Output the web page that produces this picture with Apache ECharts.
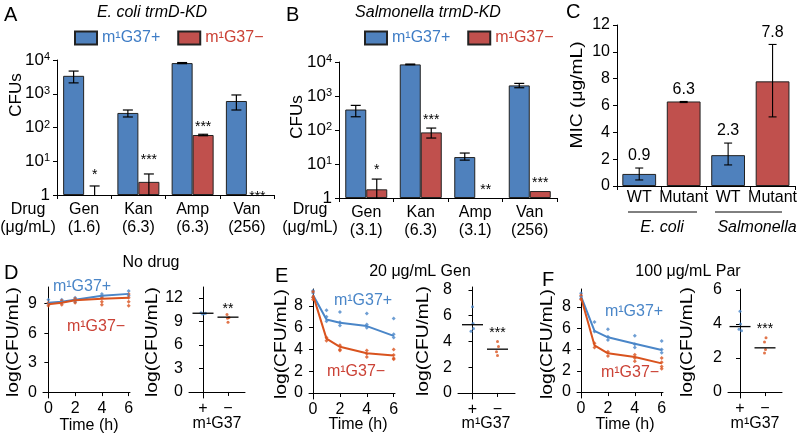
<!DOCTYPE html>
<html><head><meta charset="utf-8">
<script src="https://cdn.jsdelivr.net/npm/echarts@6/dist/echarts.min.js"></script>
<style>html,body{margin:0;padding:0;background:#fff}#c{width:800px;height:435px}</style>
</head><body><div id="c"></div>
<script>
// ---------- Panel A : E. coli trmD-KD (CFUs, log scale) ----------
const drugsA = ['Gen', 'Kan', 'Amp', 'Van'];
const dosesA = ['1.6', '6.3', '6.3', '256'];
const aPlus = [3400, 270, 8100, 610];
const aPlusLow = [2100, 205, 7800, 330];
const aPlusHigh = [4700, 330, 8400, 920];
const aMinus = [null, 2.45, 60, null];
const aMinusLow = [1, 1, 57, null];
const aMinusHigh = [1.85, 4.2, 63, null];
const aStars = ['*', '***', '***', '***'];
const aStarAt = [3.9, 10.9, 103, 0.85];

// ---------- Panel B : Salmonella trmD-KD ----------
const drugsB = ['Gen', 'Kan', 'Amp', 'Van'];
const dosesB = ['3.1', '6.3', '3.1', '256'];
const bPlus = [400, 8500, 16, 2050];
const bPlusLow = [245, 8300, 13, 1750];
const bPlusHigh = [530, 8700, 21, 2350];
const bMinus = [1.8, 85, null, 1.6];
const bMinusLow = [1, 58, null, null];
const bMinusHigh = [3.6, 114, null, null];
const bStars = ['*', '***', '**', '***'];
const bStarAt = [6.7, 196, 1.7, 2.8];

// ---------- Panel C : MIC ----------
const micCats = ['WT', 'Mutant', 'WT', 'Mutant'];
const micVals = [0.9, 6.3, 2.3, 7.8];
const micLow = [0.45, 6.22, 1.57, 5.15];
const micHigh = [1.34, 6.3, 3.2, 10.55];
const micSpecies = ['E. coli', 'Salmonella'];

// ---------- Panels D/E/F : time courses ----------
const times = [0, 1, 2, 4, 6];
const dPlusMean = [9.1, 9.2, 9.4, 9.8, 10.0];
const dMinusMean = [8.95, 9.1, 9.35, 9.5, 9.6];
const dPlusReps = [[0, 9.4], [0, 9.0], [1, 9.4], [1, 9.1], [2, 9.6], [2, 9.2], [4, 10.0], [4, 9.6], [6, 10.3], [6, 9.8]];
const dMinusReps = [[0, 9.1], [0, 8.8], [1, 9.3], [1, 8.9], [2, 9.5], [2, 9.1], [4, 9.7], [4, 9.2], [4, 8.9], [6, 10.0], [6, 9.6], [6, 9.2], [6, 8.8]];
const ePlusMean = [9.0, 6.75, 6.45, 6.15, 5.25];
const eMinusMean = [9.0, 5.0, 4.25, 3.65, 3.45];
const ePlusReps = [[0, 9.4], [0, 9.2], [0, 8.8], [1, 7.6], [1, 7.0], [1, 6.6], [2, 7.45], [2, 6.5], [2, 6.2], [4, 7.3], [4, 6.3], [4, 6.0], [6, 6.85], [6, 5.4], [6, 5.1]];
const eMinusReps = [[0, 9.3], [0, 8.8], [0, 8.6], [1, 5.1], [1, 4.8], [2, 4.4], [2, 4.0], [2, 3.9], [4, 3.9], [4, 3.6], [4, 3.3], [6, 4.0], [6, 3.5], [6, 3.2], [6, 3.1]];
const fPlusMean = [9.0, 5.75, 5.15, 4.55, 3.95];
const fMinusMean = [8.9, 4.4, 3.65, 3.3, 2.7];
const fPlusReps = [[0, 9.3], [0, 9.0], [0, 8.8], [1, 6.6], [1, 5.7], [2, 5.9], [2, 5.2], [2, 4.9], [4, 5.3], [4, 4.5], [4, 4.2], [6, 4.8], [6, 4.0], [6, 3.7]];
const fMinusReps = [[0, 9.1], [0, 8.7], [1, 4.6], [1, 4.2], [2, 3.8], [2, 3.4], [4, 3.5], [4, 3.2], [4, 2.9], [6, 3.2], [6, 2.8], [6, 2.4], [6, 2.2]];

// ---------- 6 h endpoint strip charts (x: 0 = +, 1 = −, small jitter) ----------
const stripCats = ['+', '−'];
const dStripPlus = [[-0.08, 10.1], [0.04, 10.0], [0.1, 10.05], [-0.02, 9.95]];
const dStripMinus = [[0.96, 9.9], [1.04, 9.5], [0.98, 9.4], [1.0, 8.9]];
const dStripMean = [10.05, 9.55];
const eStripPlus = [[0.0, 6.7], [0.02, 5.4], [0.04, 5.0], [-0.06, 4.8]];
const eStripMinus = [[1.0, 4.0], [1.04, 3.6], [0.96, 3.2], [1.0, 2.9]];
const eStripMean = [5.3, 3.4];
const fStripPlus = [[0.0, 4.75], [0.02, 4.0], [-0.04, 3.7], [0.06, 3.6]];
const fStripMinus = [[1.04, 3.2], [0.98, 2.95], [1.02, 2.5], [0.98, 2.3]];
const fStripMean = [3.85, 2.6];
const stripStars = ['**', '***', '***'];
const stripStarAt = [10.6, 4.66, 3.7];

// ---------- styles ----------
const FONT = '"Liberation Sans", Arial, sans-serif';
const BAR_BLUE = '#4F81BD', BAR_RED = '#C0504D';
const TXT_BLUE = '#3F7DC6', TXT_RED = '#CB4236';
const LN_BLUE = '#4A86C8', LN_RED = '#D9531E';
const BAR_W = 21;

function axisBase(extra) {
  return Object.assign({
    axisLine: { show: true, lineStyle: { color: '#000', width: 1 } },
    axisTick: { show: true, length: 4, lineStyle: { color: '#000', width: 1 } },
    axisLabel: { color: '#000', fontSize: 16, fontFamily: FONT },
    splitLine: { show: false }
  }, extra);
}
function deepAxis(extra, label, tick) {
  const a = axisBase(extra);
  if (label) a.axisLabel = Object.assign({}, a.axisLabel, label);
  if (tick) a.axisTick = Object.assign({}, a.axisTick, tick);
  return a;
}

function errBarRender(offset, cap) {
  return function (params, api) {
    const i = api.value(0), lo = api.value(1), hi = api.value(2);
    const pT = api.coord([i, hi]), pB = api.coord([i, lo]);
    const x = pT[0] + offset;
    const ls = { stroke: '#000', lineWidth: 1.2 };
    const ch = [
      { type: 'line', shape: { x1: x, y1: pB[1], x2: x, y2: pT[1] }, style: ls },
      { type: 'line', shape: { x1: x - cap, y1: pT[1], x2: x + cap, y2: pT[1] }, style: ls }
    ];
    if (lo > 1.01) ch.push({ type: 'line', shape: { x1: x - cap, y1: pB[1], x2: x + cap, y2: pB[1] }, style: ls });
    return { type: 'group', children: ch };
  };
}
function textRender(texts, offset, size) {
  return function (params, api) {
    const p = api.coord([api.value(0), api.value(1)]);
    return { type: 'text', x: p[0] + offset, y: p[1],
      style: { text: texts[params.dataIndex], align: 'center', verticalAlign: 'middle', font: size + 'px ' + FONT, fill: '#000' } };
  };
}
function errData(lo, hi) {
  const out = [];
  lo.forEach((v, i) => { if (v != null && hi[i] != null) out.push([i, v, hi[i]]); });
  return out;
}
function logLabel(v) {
  if (v === 1) return '{b|1}';
  return '{b|10}{s|' + Math.round(Math.log10(v)) + '}';
}
const logRich = { b: { fontSize: 17, fontFamily: FONT, color: '#000' }, s: { fontSize: 11, fontFamily: FONT, color: '#000', verticalAlign: 'top' } };

const grids = [
  { left: 57, top: 60, width: 217, height: 135 },   // A
  { left: 339, top: 62, width: 218, height: 136 },  // B
  { left: 617, top: 25, width: 178, height: 161 },  // C
  { left: 43, top: 287, width: 87, height: 111 },   // D line
  { left: 189, top: 287, width: 56, height: 111 },  // D strip
  { left: 309, top: 289, width: 86, height: 110 },  // E line
  { left: 458, top: 287, width: 57, height: 112 },  // E strip
  { left: 577, top: 289, width: 86, height: 109 },  // F line
  { left: 728, top: 289, width: 54, height: 109 }   // F strip
];

const catLabelAB = (doses) => ({ fontSize: 16, lineHeight: 18, margin: 6, interval: 0, formatter: (v, i) => v + '\n(' + doses[i] + ')' });
const stripLabel = { customValues: [0, 1], margin: 3, fontSize: 16, formatter: v => stripCats[Math.round(v)] };
const timeLabel = { customValues: [0, 2, 4, 6], margin: 3 };

const xAxes = [
  deepAxis({ type: 'category', gridIndex: 0, data: drugsA }, catLabelAB(dosesA)),
  deepAxis({ type: 'category', gridIndex: 1, data: drugsB }, catLabelAB(dosesB)),
  deepAxis({ type: 'category', gridIndex: 2, data: micCats }, { fontSize: 16, margin: 4, interval: 0 }),
  deepAxis({ type: 'value', gridIndex: 3, min: -0.4, max: 6.1 }, timeLabel, { customValues: [0, 2, 4, 6] }),
  deepAxis({ type: 'value', gridIndex: 4, min: -0.56, max: 1.68 }, stripLabel, { customValues: [0, 1] }),
  deepAxis({ type: 'value', gridIndex: 5, min: -0.3, max: 6.1 }, timeLabel, { customValues: [0, 2, 4, 6] }),
  deepAxis({ type: 'value', gridIndex: 6, min: -0.58, max: 1.7 }, stripLabel, { customValues: [0, 1] }),
  deepAxis({ type: 'value', gridIndex: 7, min: -0.3, max: 6.1 }, timeLabel, { customValues: [0, 2, 4, 6] }),
  deepAxis({ type: 'value', gridIndex: 8, min: -0.48, max: 1.68 }, stripLabel, { customValues: [0, 1] })
];

const yAxes = [
  deepAxis({ type: 'log', logBase: 10, gridIndex: 0, min: 1, max: 10000 }, { formatter: logLabel, rich: logRich, margin: 7 }),
  deepAxis({ type: 'log', logBase: 10, gridIndex: 1, min: 1, max: 10000 }, { formatter: logLabel, rich: logRich, margin: 7 }),
  deepAxis({ type: 'value', gridIndex: 2, min: 0, max: 12, interval: 2 }, { fontSize: 16, margin: 7 }),
  deepAxis({ type: 'value', gridIndex: 3, min: -0.6, max: 10.7 }, { customValues: [0, 3, 6, 9], margin: 6 }, { customValues: [0, 3, 6, 9] }),
  deepAxis({ type: 'value', gridIndex: 4, min: -0.77, max: 13.4 }, { customValues: [0, 3, 6, 9, 12], margin: 6 }, { customValues: [0, 3, 6, 9, 12] }),
  deepAxis({ type: 'value', gridIndex: 5, min: -0.55, max: 9.56 }, { customValues: [0, 2, 4, 6, 8], margin: 6 }, { customValues: [0, 2, 4, 6, 8] }),
  deepAxis({ type: 'value', gridIndex: 6, min: -0.47, max: 8.23 }, { customValues: [0, 2, 4, 6, 8], margin: 6 }, { customValues: [0, 2, 4, 6, 8] }),
  deepAxis({ type: 'value', gridIndex: 7, min: -0.56, max: 9.7 }, { customValues: [0, 2, 4, 6, 8], margin: 6 }, { customValues: [0, 2, 4, 6, 8] }),
  deepAxis({ type: 'value', gridIndex: 8, min: -0.35, max: 6.06 }, { customValues: [0, 2, 4, 6], margin: 6 }, { customValues: [0, 2, 4, 6] })
];

const barStyle = (c) => ({ color: c, borderColor: '#222', borderWidth: 1 });
const series = [];
// A / B bars
[[0, aPlus, aMinus, aPlusLow, aPlusHigh, aMinusLow, aMinusHigh, aStars, aStarAt],
 [1, bPlus, bMinus, bPlusLow, bPlusHigh, bMinusLow, bMinusHigh, bStars, bStarAt]].forEach(r => {
  const [g, plus, minus, pl, ph, ml, mh, stars, starAt] = r;
  series.push({ type: 'bar', name: 'm¹G37+', xAxisIndex: g, yAxisIndex: g, barWidth: BAR_W, barGap: '0%', data: plus, itemStyle: barStyle(BAR_BLUE) });
  series.push({ type: 'bar', name: 'm¹G37−', xAxisIndex: g, yAxisIndex: g, barWidth: BAR_W, barGap: '0%', data: minus.map(v => v == null ? '-' : v), itemStyle: barStyle(BAR_RED) });
  series.push({ type: 'custom', name: 'errP' + g, xAxisIndex: g, yAxisIndex: g, z: 5, renderItem: errBarRender(-BAR_W / 2, 5), data: errData(pl, ph), encode: { x: 0, y: [1, 2] } });
  series.push({ type: 'custom', name: 'errM' + g, xAxisIndex: g, yAxisIndex: g, z: 5, renderItem: errBarRender(BAR_W / 2, 5), data: errData(ml, mh), encode: { x: 0, y: [1, 2] } });
  series.push({ type: 'custom', name: 'stars' + g, xAxisIndex: g, yAxisIndex: g, z: 5, renderItem: textRender(stars, BAR_W / 2, 14), data: starAt.map((v, i) => [i, v]), encode: { x: 0, y: 1 } });
});
// C bars
series.push({ type: 'bar', name: 'MIC', xAxisIndex: 2, yAxisIndex: 2, barCategoryGap: '24%',
  data: micVals.map((v, i) => ({ value: v, itemStyle: barStyle(micCats[i] === 'WT' ? BAR_BLUE : BAR_RED) })) });
series.push({ type: 'custom', name: 'micErr', xAxisIndex: 2, yAxisIndex: 2, z: 5,
  renderItem: function (params, api) {
    const i = api.value(0), lo = api.value(1), hi = api.value(2);
    const pT = api.coord([i, hi]), pB = api.coord([i, lo]);
    const x = pT[0];
    const ls = { stroke: '#000', lineWidth: 1.1 };
    return { type: 'group', children: [
      { type: 'line', shape: { x1: x, y1: pB[1], x2: x, y2: pT[1] }, style: ls },
      { type: 'line', shape: { x1: x - 4, y1: pT[1], x2: x + 4, y2: pT[1] }, style: ls },
      { type: 'line', shape: { x1: x - 4, y1: pB[1], x2: x + 4, y2: pB[1] }, style: ls },
      { type: 'text', x: x, y: pT[1] - 4, style: { text: String(micVals[params.dataIndex]), align: 'center', verticalAlign: 'bottom', font: '16px ' + FONT, fill: '#000' } }
    ] };
  },
  data: micVals.map((v, i) => [i, micLow[i], micHigh[i]]), encode: { x: 0, y: [1, 2] } });

// D/E/F line plots
[[3, dPlusMean, dMinusMean, dPlusReps, dMinusReps],
 [5, ePlusMean, eMinusMean, ePlusReps, eMinusReps],
 [7, fPlusMean, fMinusMean, fPlusReps, fMinusReps]].forEach(r => {
  const [g, pm, mm, pr, mr] = r;
  series.push({ type: 'line', name: 'L+' + g, xAxisIndex: g, yAxisIndex: g, data: times.map((t, i) => [t, pm[i]]), showSymbol: false, lineStyle: { color: LN_BLUE, width: 2 }, itemStyle: { color: LN_BLUE }, z: 3 });
  series.push({ type: 'line', name: 'L-' + g, xAxisIndex: g, yAxisIndex: g, data: times.map((t, i) => [t, mm[i]]), showSymbol: false, lineStyle: { color: LN_RED, width: 2 }, itemStyle: { color: LN_RED }, z: 3 });
  series.push({ type: 'scatter', name: 'P+' + g, xAxisIndex: g, yAxisIndex: g, data: pr, symbol: 'diamond', symbolSize: 4, itemStyle: { color: LN_BLUE } });
  series.push({ type: 'scatter', name: 'P-' + g, xAxisIndex: g, yAxisIndex: g, data: mr, symbol: 'diamond', symbolSize: 4, itemStyle: { color: LN_RED } });
});

// D/E/F strip charts
[[4, dStripPlus, dStripMinus, dStripMean, 0],
 [6, eStripPlus, eStripMinus, eStripMean, 1],
 [8, fStripPlus, fStripMinus, fStripMean, 2]].forEach(r => {
  const [g, sp, sm, means, si] = r;
  series.push({ type: 'scatter', name: 'S+' + g, xAxisIndex: g, yAxisIndex: g, data: sp, symbolSize: 3, itemStyle: { color: LN_BLUE } });
  series.push({ type: 'scatter', name: 'S-' + g, xAxisIndex: g, yAxisIndex: g, data: sm, symbolSize: 3, itemStyle: { color: LN_RED } });
  series.push({ type: 'custom', name: 'mean' + g, xAxisIndex: g, yAxisIndex: g, z: 4,
    renderItem: function (params, api) {
      const x = api.value(0), y = api.value(1);
      const a = api.coord([x - 0.42, y]), b = api.coord([x + 0.42, y]);
      return { type: 'line', shape: { x1: a[0], y1: a[1], x2: b[0], y2: b[1] }, style: { stroke: '#000', lineWidth: 1.3 } };
    },
    data: means.map((m, i) => [i, m]), encode: { x: 0, y: 1 } });
  series.push({ type: 'custom', name: 'sst' + g, xAxisIndex: g, yAxisIndex: g, z: 4,
    renderItem: function (params, api) {
      const p = api.coord([api.value(0), api.value(1)]);
      return { type: 'text', x: p[0], y: p[1], style: { text: stripStars[si], align: 'center', verticalAlign: 'middle', font: '14px ' + FONT, fill: '#000' } };
    },
    data: [[1, stripStarAt[si]]], encode: { x: 0, y: 1 } });
});

function T(text, x, y, opt) {
  opt = opt || {};
  return { type: 'text', x: x, y: y, rotation: opt.rot || 0, scaleX: opt.sx || 1, scaleY: opt.sy || 1, z: 10,
    style: { text: text, font: (opt.style || '') + ' ' + (opt.size || 16) + 'px ' + FONT, fill: opt.color || '#000',
      align: opt.align || 'center', verticalAlign: opt.va || 'middle', lineHeight: opt.lh } };
}
const R = Math.PI / 2;
const graphics = [
  T('A', 4, 5, { size: 20, align: 'left', va: 'top' }),
  T('B', 286, 5, { size: 20, align: 'left', va: 'top' }),
  T('C', 566, 2, { size: 20, align: 'left', va: 'top' }),
  T('D', 4, 263, { size: 20, align: 'left', va: 'top' }),
  T('E', 275, 266, { size: 20, align: 'left', va: 'top' }),
  T('F', 542, 270, { size: 20, align: 'left', va: 'top' }),
  T('E. coli trmD-KD', 152, 13, { style: 'italic' }),
  T('Salmonella trmD-KD', 428, 13, { style: 'italic' }),
  T('CFUs', 16, 95, { rot: R, size: 17 }),
  T('CFUs', 297, 117, { rot: R, size: 17 }),
  T('MIC (μg/mL)', 578, 95, { rot: R, sx: 1.2 }),
  T('Drug\n(μg/mL)', 28, 219, { lh: 18 }),
  T('Drug\n(μg/mL)', 310, 219, { lh: 18 }),
  T('E. coli', 662, 228, { style: 'italic' }),
  T('Salmonella', 757, 228, { style: 'italic' }),
  { type: 'line', shape: { x1: 628, y1: 212, x2: 697, y2: 212 }, style: { stroke: '#000', lineWidth: 1 } },
  { type: 'line', shape: { x1: 715, y1: 212, x2: 782, y2: 212 }, style: { stroke: '#000', lineWidth: 1 } },
  T('No drug', 151, 263),
  T('20 μg/mL Gen', 420, 272),
  T('100 μg/mL Par', 688, 272),
  T('log(CFU/mL)', 14, 342, { rot: R, sx: 1.2 }),
  T('log(CFU/mL)', 153, 342, { rot: R, sx: 1.2 }),
  T('log(CFU/mL)', 282, 344, { rot: R, sx: 1.2 }),
  T('log(CFU/mL)', 424, 341, { rot: R, sx: 1.2 }),
  T('log(CFU/mL)', 548, 344, { rot: R, sx: 1.2 }),
  T('log(CFU/mL)', 688, 342, { rot: R, sx: 1.2 }),
  T('Time (h)', 89, 426), T('Time (h)', 358, 425), T('Time (h)', 625, 425),
  T('m¹G37', 217, 424), T('m¹G37', 486, 424), T('m¹G37', 755, 424),
  T('m¹G37+', 82, 287, { color: LN_BLUE }), T('m¹G37−', 96, 327, { color: TXT_RED }),
  T('m¹G37+', 363, 301, { color: LN_BLUE }), T('m¹G37−', 356, 372, { color: TXT_RED }),
  T('m¹G37+', 634, 312, { color: LN_BLUE }), T('m¹G37−', 630, 373, { color: TXT_RED })
];

const legendItem = [{ name: 'm¹G37+', textStyle: { color: TXT_BLUE } }, { name: 'm¹G37−', textStyle: { color: TXT_RED } }];
const legendBase = { icon: 'rect', itemWidth: 22, itemHeight: 13, itemGap: 17, top: 25, textStyle: { fontSize: 16, fontFamily: FONT }, data: legendItem, selectedMode: false };

const chart = echarts.init(document.getElementById('c'), null, { renderer: 'canvas' });
chart.setOption({
  animation: false,
  textStyle: { fontFamily: FONT },
  legend: [Object.assign({ left: 69 }, legendBase), Object.assign({ left: 359 }, legendBase)],
  grid: grids,
  xAxis: xAxes,
  yAxis: yAxes,
  series: series,
  graphic: graphics
});
</script></body></html>
